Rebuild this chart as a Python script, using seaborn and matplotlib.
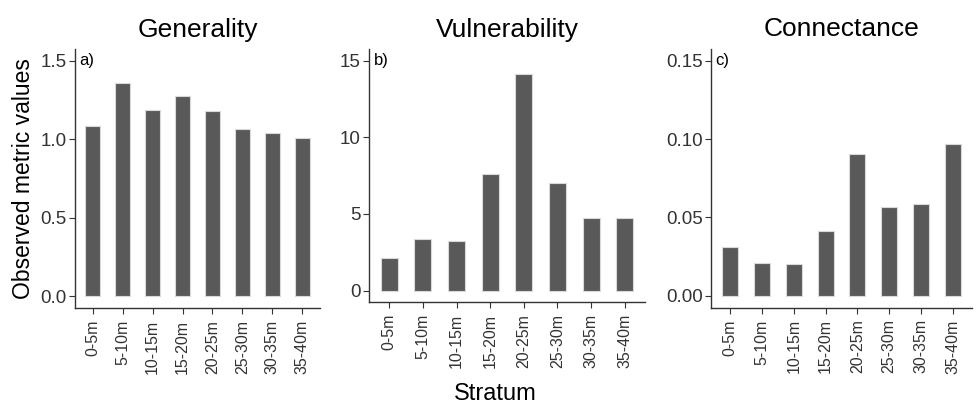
import matplotlib
matplotlib.use("Agg")
import matplotlib.pyplot as plt
import seaborn as sns
import pandas as pd

strata = ["0-5m", "5-10m", "10-15m", "15-20m", "20-25m", "25-30m", "30-35m", "35-40m"]
generality = [1.085, 1.357, 1.187, 1.278, 1.180, 1.064, 1.038, 1.006]
vulnerability = [2.15, 3.35, 3.20, 7.57, 14.1, 7.0, 4.76, 4.76]
connectance = [0.0314, 0.0212, 0.0204, 0.0414, 0.0904, 0.0569, 0.0586, 0.0966]

titles = ["Generality", "Vulnerability", "Connectance"]
panel_labels = ["a)", "b)", "c)"]
yticks = [[0.0, 0.5, 1.0, 1.5], [0, 5, 10, 15], [0.00, 0.05, 0.10, 0.15]]
yticklabels = [["0.0", "0.5", "1.0", "1.5"], ["0", "5", "10", "15"],
               ["0.00", "0.05", "0.10", "0.15"]]
ylims = [(-0.075, 1.575), (-0.75, 15.75), (-0.0075, 0.1575)]

sns.set_theme(style="white")
plt.rcParams['font.family'] = ['Liberation Sans', 'DejaVu Sans']

fig = plt.figure(figsize=(9.8, 4.07), dpi=100)
W, H = 980, 407
boxes = [(75, 320, 49, 308), (369, 645, 49, 302), (711, 972, 49, 307.5)]

series = [generality, vulnerability, connectance]
axes = []
for i, (vals, box) in enumerate(zip(series, boxes)):
    x0, x1, y0, y1 = box
    ax = fig.add_axes([x0 / W, 1 - y1 / H, (x1 - x0) / W, (y1 - y0) / H])
    df = pd.DataFrame({"Stratum": strata, "value": vals})
    sns.barplot(data=df, x="Stratum", y="value", ax=ax, color="#595959",
                width=0.5, edgecolor="#d9d9d9", linewidth=0.8, saturation=1)
    ax.set_xlim(-0.6, len(strata) - 0.4)
    ax.set_ylim(*ylims[i])
    ax.set_yticks(yticks[i])
    ax.set_yticklabels(yticklabels[i])
    ax.set_xticks(range(len(strata)))
    ax.set_xticklabels(strata, rotation=90, fontsize=11.5, color="#333333")
    ax.tick_params(axis="y", labelsize=13.5, labelcolor="#333333")
    ax.tick_params(axis="both", direction="out", length=4, width=0.8,
                   color="#333333", bottom=True, left=True, pad=2)
    ax.tick_params(axis="x", pad=4.5)
    for s in ["top", "right"]:
        ax.spines[s].set_visible(False)
    for s in ["left", "bottom"]:
        ax.spines[s].set_color("#333333")
        ax.spines[s].set_linewidth(1.0)
    ax.set_xlabel("")
    ax.set_ylabel("")
    ax.set_title(titles[i], fontsize=19, pad=9, color="black")
    ax.text(0.018, 0.985, panel_labels[i], transform=ax.transAxes,
            ha="left", va="top", fontsize=12, color="black")
    axes.append(ax)

axes[0].set_ylabel("Observed metric values", fontsize=16.5, labelpad=4, color="black")
fig.text(495 / W, 1 - 394 / H, "Stratum", ha="center", va="center", fontsize=17,
         color="black")

fig.savefig("out.png", dpi=100)
